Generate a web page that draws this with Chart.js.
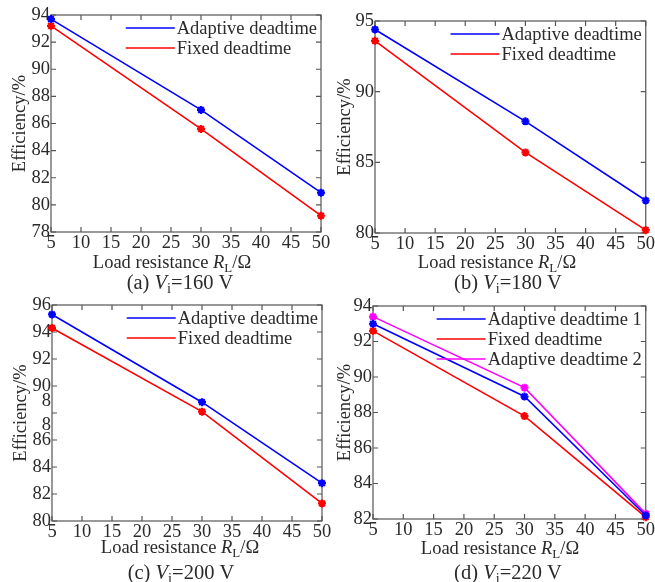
<!DOCTYPE html>
<html>
<head>
<meta charset="utf-8">
<title>Efficiency vs load resistance</title>
<script src="https://cdn.jsdelivr.net/npm/chart.js@4.4.1/dist/chart.umd.min.js"></script>
<style>
  html, body { margin: 0; padding: 0; background: #fff; }
  #wrap { position: relative; width: 655px; height: 582px; overflow: hidden; }
  #wrap canvas { position: absolute; left: 0; top: 0; }
</style>
</head>
<body>
<div id="wrap">
  <canvas id="chartA" width="655" height="582"></canvas>
  <canvas id="chartB" width="655" height="582"></canvas>
  <canvas id="chartC" width="655" height="582"></canvas>
  <canvas id="chartD" width="655" height="582"></canvas>
</div>
<script>
// load resistance R_L in ohms
const loadResistance = [5, 30, 50];
const xTicks = [5, 10, 15, 20, 25, 30, 35, 40, 45, 50];

// efficiency in %, one pair of series per input voltage
const adaptive160 = [93.7, 87.0, 80.9];
const fixed160    = [93.2, 85.6, 79.2];
const adaptive180 = [94.4, 87.9, 82.3];
const fixed180    = [93.6, 85.7, 80.2];
const adaptive200 = [95.3, 88.8, 82.8];
const fixed200    = [94.3, 88.1, 81.3];
const adaptive1_220 = [93.0, 88.9, 82.2];
const fixed220      = [92.6, 87.8, 82.1];
const adaptive2_220 = [93.4, 89.4, 82.3];

const inputVoltages = ['160', '180', '200', '220'];
const panelLetters = ['a', 'b', 'c', 'd'];

const FONT = "'Liberation Serif', 'Times New Roman', serif";
const TEXT = '#2a2a2a';
const BLUE = '#0000ff', RED = '#ff0000', MAGENTA = '#ff00ff';
const Y_AXIS_W = 44, X_AXIS_H = 24;

Chart.defaults.font.family = FONT;
Chart.defaults.color = TEXT;

// draws text pieces one after another: [text, italic, subscript]
function drawRich(ctx, parts, cx, cy, size) {
  const fontFor = p => (p[1] ? 'italic ' : '') + (p[2] ? size * 0.7 : size) + 'px ' + FONT;
  let total = 0;
  parts.forEach(p => { ctx.font = fontFor(p); total += ctx.measureText(p[0]).width; });
  let x = cx - total / 2;
  ctx.textAlign = 'left';
  ctx.textBaseline = 'alphabetic';
  parts.forEach(p => {
    ctx.font = fontFor(p);
    ctx.fillText(p[0], x, cy + size * 0.33 + (p[2] ? size * 0.22 : 0));
    x += ctx.measureText(p[0]).width;
  });
}

const frameAndTicks = {
  id: 'frameAndTicks',
  beforeDatasetsDraw(chart) {
    const { ctx, chartArea: a, scales: { x, y } } = chart;
    const tl = 5;
    ctx.save();
    ctx.strokeStyle = '#555';
    ctx.lineWidth = 1.2;
    ctx.strokeRect(a.left, a.top, a.right - a.left, a.bottom - a.top);
    ctx.beginPath();
    x.ticks.forEach(t => {
      const px = x.getPixelForValue(t.value);
      ctx.moveTo(px, a.bottom); ctx.lineTo(px, a.bottom - tl);
      ctx.moveTo(px, a.top); ctx.lineTo(px, a.top + tl);
    });
    y.ticks.forEach(t => {
      const py = y.getPixelForValue(t.value);
      ctx.moveTo(a.left, py); ctx.lineTo(a.left + tl, py);
      ctx.moveTo(a.right, py); ctx.lineTo(a.right - tl, py);
    });
    ctx.stroke();
    ctx.restore();
  },
  afterDraw(chart, args, opts) {
    const { ctx, chartArea: a } = chart;
    ctx.save();
    ctx.fillStyle = TEXT;

    // legend in the upper right corner, no box
    const lsize = 18.5;
    ctx.font = lsize + 'px ' + FONT;
    const sets = chart.data.datasets;
    const maxW = Math.max(...sets.map(d => ctx.measureText(d.label).width));
    const textX = a.right - 4 - maxW;
    sets.forEach((d, i) => {
      const ly = a.top + 13 + i * 20;
      ctx.strokeStyle = d.borderColor;
      ctx.lineWidth = 1.6;
      ctx.beginPath();
      ctx.moveTo(textX - 51, ly); ctx.lineTo(textX - 2, ly);
      ctx.stroke();
      ctx.textAlign = 'left';
      ctx.textBaseline = 'middle';
      ctx.fillText(d.label, textX, ly + 1);
    });

    // y title
    ctx.save();
    ctx.translate(opts.yTitleX, (a.top + a.bottom) / 2);
    ctx.rotate(-Math.PI / 2);
    ctx.font = '18.5px ' + FONT;
    ctx.textAlign = 'center';
    ctx.textBaseline = 'middle';
    ctx.fillText('Efficiency/%', 0, 0);
    ctx.restore();

    // x title and caption
    drawRich(ctx, [['Load resistance ', false, false], ['R', true, false], ['L', false, true], ['/\u03a9', false, false]],
      opts.xTitle[0], opts.xTitle[1], 18.5);
    drawRich(ctx, [['(' + opts.letter + ') ', false, false], ['V', true, false], ['i', false, true], ['=' + opts.volts + ' V', false, false]],
      opts.caption[0], opts.caption[1], 20.5);
    ctx.restore();
  }
};

function series(label, values, color) {
  return {
    label: label,
    data: loadResistance.map((r, i) => ({ x: r, y: values[i] })),
    borderColor: color,
    backgroundColor: color,
    borderWidth: 1.6,
    pointStyle: 'star',
    pointRadius: 4,
    pointBorderWidth: 2.2,
    pointBackgroundColor: color,
    clip: false,
    tension: 0
  };
}

function makePanel(id, idx, datasets, area, yMin, yMax, yStep, decor, yLabel) {
  new Chart(document.getElementById(id), {
    type: 'line',
    data: { datasets: datasets },
    plugins: [frameAndTicks],
    options: {
      responsive: false,
      animation: false,
      events: [],
      layout: {
        padding: {
          left: area[0] - Y_AXIS_W,
          top: area[1],
          right: 655 - area[2],
          bottom: 582 - area[3] - X_AXIS_H
        }
      },
      scales: {
        x: {
          type: 'linear', min: 5, max: 50,
          afterBuildTicks: s => { s.ticks = xTicks.map(v => ({ value: v })); },
          afterFit: s => { s.height = X_AXIS_H; },
          grid: { display: false, drawTicks: false },
          border: { display: false },
          ticks: { font: { size: 18.5 }, color: TEXT, padding: 0, maxRotation: 0, autoSkip: false }
        },
        y: {
          min: yMin, max: yMax,
          afterFit: s => { s.width = Y_AXIS_W; },
          grid: { display: false, drawTicks: false },
          border: { display: false },
          ticks: {
            stepSize: yStep, font: { size: 18.5, lineHeight: 1.3 }, color: TEXT, padding: 1,
            autoSkip: false, callback: yLabel || (v => v)
          }
        }
      },
      plugins: {
        legend: { display: false },
        tooltip: { enabled: false },
        frameAndTicks: Object.assign({ letter: panelLetters[idx], volts: inputVoltages[idx] }, decor)
      }
    }
  });
}

makePanel('chartA', 0,
  [series('Adaptive deadtime', adaptive160, BLUE), series('Fixed deadtime', fixed160, RED)],
  [51, 15, 321, 232], 78, 94, 2,
  { yTitleX: 20, xTitle: [172, 262], caption: [180, 282] });

makePanel('chartB', 1,
  [series('Adaptive deadtime', adaptive180, BLUE), series('Fixed deadtime', fixed180, RED)],
  [375, 21, 647, 233], 80, 95, 5,
  { yTitleX: 345, xTitle: [497, 262], caption: [508, 282] });

// the 88 tick label is split into two separate "8" glyphs
makePanel('chartC', 2,
  [series('Adaptive deadtime', adaptive200, BLUE), series('Fixed deadtime', fixed200, RED)],
  [52, 305, 322, 521], 80, 96, 2,
  { yTitleX: 21, xTitle: [180, 547], caption: [181, 572] },
  v => (v === 88 ? ['8', '8'] : v));

makePanel('chartD', 3,
  [series('Adaptive deadtime 1', adaptive1_220, BLUE), series('Fixed deadtime', fixed220, RED),
   series('Adaptive deadtime 2', adaptive2_220, MAGENTA)],
  [373, 306, 648, 519], 82, 94, 2,
  { yTitleX: 345, xTitle: [500, 548], caption: [508, 572] });
</script>
</body>
</html>
